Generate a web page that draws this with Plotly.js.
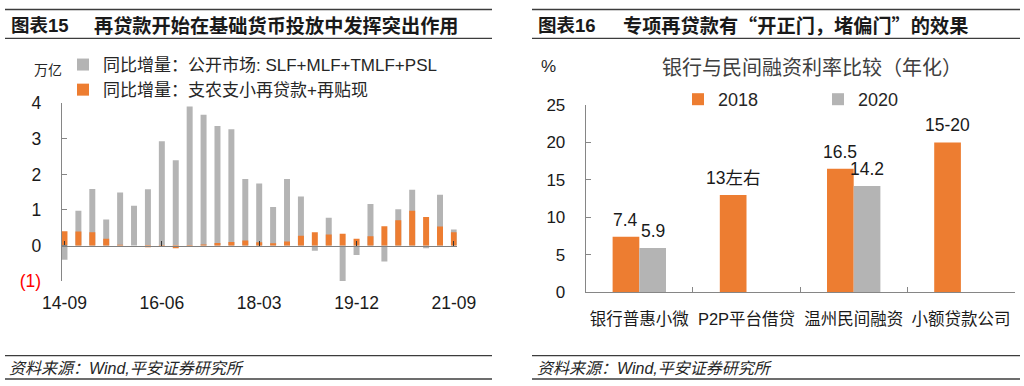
<!DOCTYPE html>
<html>
<head>
<meta charset="utf-8">
<script src="https://cdn.plot.ly/plotly-3.0.1.min.js"></script>
<style>
html,body{margin:0;padding:0;background:#fff;}
#chart{width:1024px;height:386px;}
</style>
</head>
<body>
<div id="chart"></div>
<script>
// ---------- Left chart data (万亿, quarterly) ----------
var quarters = ['14-09','14-12','15-03','15-06','15-09','15-12','16-03','16-06','16-09','16-12',
                '17-03','17-06','17-09','17-12','18-03','18-06','18-09','18-12','19-03','19-06',
                '19-09','19-12','20-03','20-06','20-09','20-12','21-03','21-06','21-09'];
var quarterTicks = ['14-09','16-06','18-03','19-12','21-09'];
var openMarketYoY = [-0.40,0.98,1.59,0.73,1.49,1.12,1.58,2.93,2.40,3.91,
                     3.68,3.36,3.27,1.87,1.74,1.08,1.87,1.38,-0.15,0.78,
                     -1.07,-0.27,1.17,-0.45,1.02,1.57,-0.08,1.43,0.45];
var relendingYoY = [0.40,0.39,0.37,0.19,0.02,0.00,-0.05,-0.04,-0.08,-0.02,
                    0.03,0.07,0.10,0.14,0.09,0.06,0.11,0.27,0.37,0.31,
                    0.33,0.19,0.26,0.54,0.71,0.98,0.80,0.53,0.37];
var leftYTickVals = [-1,0,1,2,3,4];
var leftYTickText = ['<span style="color:#ff0000">(1)</span>','0','1','2','3','4'];
var leftNames = ['同比增量：公开市场: SLF+MLF+TMLF+PSL','同比增量：支农支小再贷款+再贴现'];

// ---------- Right chart data (%) ----------
var lenders = ['银行普惠小微','P2P平台借贷','温州民间融资','小额贷款公司'];
var rate2018 = [7.4,13,16.5,20];
var rate2020 = [5.9,null,14.2,null];
var label2018 = ['7.4','13左右','16.5','15-20'];
var label2020 = ['5.9','','14.2',''];

var GRAY = '#b4b4b4', ORANGE = '#ed7d31';
var FONT = 'Liberation Sans, Arial, "Noto Sans CJK SC", sans-serif';
var CJKFONT = '"Noto Sans CJK SC", Liberation Sans, sans-serif';
var W = 1024, H = 386;
var BW = 0.249;               // bar width (category units) in right chart
var OFFS = [-BW, 0];          // offsets of 2018 / 2020 bars
function X(px){return px/W;}
function Y(py){return 1-py/H;}

var traces = [
  {type:'bar', name:leftNames[0], x:quarters, y:openMarketYoY, xaxis:'x', yaxis:'y',
   marker:{color:GRAY}, legend:'legend', hoverinfo:'x+y'},
  {type:'bar', name:leftNames[1], x:quarters, y:relendingYoY, xaxis:'x', yaxis:'y',
   marker:{color:ORANGE}, legend:'legend', hoverinfo:'x+y'},
  {type:'bar', name:'2018', x:lenders, y:rate2018, xaxis:'x2', yaxis:'y2',
   marker:{color:ORANGE}, width:BW, offset:OFFS[0], legend:'legend2', hoverinfo:'x+y'},
  {type:'bar', name:'2020', x:lenders, y:rate2020, xaxis:'x2', yaxis:'y2',
   marker:{color:GRAY}, width:BW, offset:OFFS[1], legend:'legend2', hoverinfo:'x+y'}
];

function hline(x0,x1,y){
  return {type:'line', xref:'paper', yref:'paper', x0:X(x0), x1:X(x1), y0:Y(y), y1:Y(y),
          line:{color:'#3c3c3c', width:1.3}};
}
function txt(text, x, y, opts){
  var a = {text:text, xref:'paper', yref:'paper', x:X(x), y:Y(y), showarrow:false,
           xanchor:'left', yanchor:'middle', font:{family:FONT, size:17, color:'#1a1a1a'}};
  for (var k in opts){ if(k==='font'){ for(var f in opts.font) a.font[f]=opts.font[f]; } else a[k]=opts[k]; }
  return a;
}

var annotations = [
  txt('<b>图表15</b>', 9, 25, {font:{size:18.5, color:'#1a1a1a'}}),
  txt('<b>再贷款开始在基础货币投放中发挥突出作用</b>', 92, 25, {font:{size:19.2, color:'#1a1a1a', family:CJKFONT}}),
  txt('<b>图表16</b>', 536, 25, {font:{size:18.5, color:'#1a1a1a'}}),
  txt('<b>专项再贷款有“开正门，堵偏门”的效果</b>', 621, 25, {font:{size:19.2, color:'#1a1a1a', family:CJKFONT}}),
  txt('万亿', 48, 70, {xanchor:'center', font:{size:14, color:'#262626'}}),
  txt('%', 548.5, 67, {xanchor:'center', font:{size:17, color:'#262626'}}),
  txt('银行与民间融资利率比较（年化）', 811.5, 68, {xanchor:'center', font:{size:20, color:'#404040'}}),
  txt('<i>资料来源：Wind,平安证券研究所</i>', 7, 368, {font:{size:16, color:'#262626'}}),
  txt('<i>资料来源：Wind,平安证券研究所</i>', 535, 368, {font:{size:16, color:'#262626'}})
];
// value labels above the right-chart bars
[[rate2018,label2018,OFFS[0]],[rate2020,label2020,OFFS[1]]].forEach(function(s){
  s[0].forEach(function(v,i){
    if (v === null || !s[1][i]) return;
    annotations.push({xref:'x2', yref:'y2', x:i + s[2] + BW/2, y:v, text:s[1][i],
      showarrow:false, xanchor:'center', yanchor:'bottom', yshift:5,
      font:{family:FONT, size:17.5, color:'#1a1a1a'}});
  });
});

var layout = {
  width:W, height:H, margin:{l:0,r:0,t:0,b:0},
  paper_bgcolor:'#fff', plot_bgcolor:'rgba(0,0,0,0)',
  font:{family:FONT, color:'#1a1a1a'},
  barmode:'overlay', bargap:0.57,
  showlegend:true,
  xaxis:{type:'category', domain:[X(61.7),X(456.7)], range:[-0.2,28.2],
         anchor:'free', position:Y(245.5),
         showline:true, linecolor:'#808080', linewidth:1.5,
         ticks:'inside', ticklen:5, tickcolor:'#333', tickwidth:1,
         tickmode:'array', tickvals:quarterTicks, ticktext:quarterTicks, tickangle:0,
         ticklabelstandoff:41, tickfont:{size:17.5, color:'#1a1a1a'},
         showgrid:false, zeroline:false, fixedrange:true},
  yaxis:{domain:[Y(281),Y(103.3)], range:[-1,4], anchor:'x',
         showline:true, linecolor:'#868686', linewidth:1,
         ticks:'inside', ticklen:5, tickcolor:'#868686',
         tickmode:'array', tickvals:leftYTickVals, ticktext:leftYTickText,
         ticklabelstandoff:16, tickfont:{size:17.5, color:'#1a1a1a'},
         showgrid:false, zeroline:false, fixedrange:true},
  xaxis2:{type:'category', domain:[X(585.7),X(1014.5)], range:[-0.5,3.5], anchor:'y2',
          showline:true, linecolor:'#868686', linewidth:1,
          ticks:'inside', ticklen:5, tickcolor:'#868686', tickson:'boundaries', tickangle:0,
          ticklabelstandoff:12, tickfont:{size:16.5, color:'#1a1a1a'},
          showgrid:false, zeroline:false, fixedrange:true},
  yaxis2:{domain:[Y(292.3),Y(105)], range:[0,25], anchor:'x2', dtick:5, tick0:0,
          showline:true, linecolor:'#868686', linewidth:1,
          ticks:'inside', ticklen:5, tickcolor:'#868686',
          ticklabelstandoff:16, tickfont:{size:17, color:'#1a1a1a'},
          showgrid:false, zeroline:false, fixedrange:true},
  legend:{x:X(63), y:Y(47), xanchor:'left', yanchor:'top', orientation:'v',
          bgcolor:'rgba(0,0,0,0)', font:{size:17, color:'#262626'}, tracegroupgap:0},
  legend2:{x:X(678), y:Y(81), xanchor:'left', yanchor:'top', orientation:'h',
           bgcolor:'rgba(0,0,0,0)', font:{size:18, color:'#262626'},
           entrywidth:95, entrywidthmode:'pixels'},
  shapes:[
    hline(5,492,9.5), hline(5,492,38.3), hline(5,492,355.7), hline(5,492,379),
    hline(532,1020,9.5), hline(532,1020,38.3), hline(532,1020,355.7), hline(532,1020,379)
  ],
  annotations:annotations
};

Plotly.newPlot('chart', traces, layout, {displayModeBar:false, staticPlot:true});
</script>
</body>
</html>
